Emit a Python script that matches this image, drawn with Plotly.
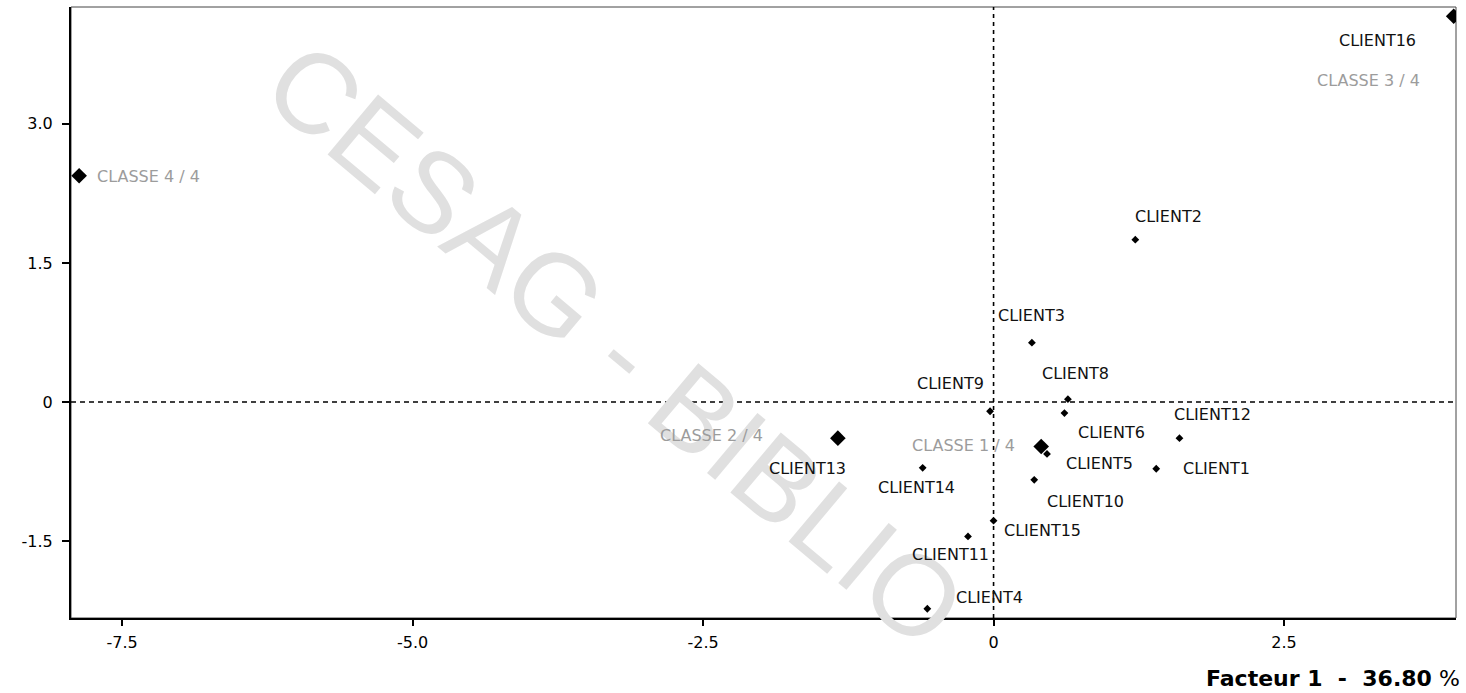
import plotly.graph_objects as go

# Individuals projected on factor 1 (x) and factor 2 (y)
client_names = ["CLIENT1", "CLIENT2", "CLIENT3", "CLIENT4", "CLIENT5", "CLIENT6",
                "CLIENT8", "CLIENT9", "CLIENT10", "CLIENT11", "CLIENT12", "CLIENT13",
                "CLIENT14", "CLIENT15", "CLIENT16"]
client_x = [1.40, 1.22, 0.33, -0.57, 0.46, 0.61, 0.64, -0.03, 0.35, -0.22, 1.60, -1.33,
            -0.61, 0.00, 3.96]
client_y = [-0.72, 1.75, 0.64, -2.23, -0.56, -0.12, 0.03, -0.10, -0.84, -1.45, -0.39, -0.40,
            -0.71, -1.28, 4.16]

# Class centroids
class_names = ["CLASSE 1 / 4", "CLASSE 2 / 4", "CLASSE 3 / 4", "CLASSE 4 / 4"]
class_x = [0.41, -1.34, 3.96, -7.87]
class_y = [-0.48, -0.39, 4.16, 2.44]

# Axis ticks
x_ticks = [-7.5, -5.0, -2.5, 0.0, 2.5]
x_tick_text = ["-7.5", "-5.0", "-2.5", "0", "2.5"]
y_ticks = [-1.5, 0.0, 1.5, 3.0]
y_tick_text = ["-1.5", "0", "1.5", "3.0"]

# Label offsets in pixels (dx, dy), one per point (client labels centred)
client_label_shift = [(60, 0), (33, 23), (0, 27), (62, 11), (52, -10), (47, -19),
                      (8, 26), (-40, 28), (51, -22), (-18, -18), (33, 24), (-32, -29),
                      (-6, -20), (49, -10), (-76, -24)]
# class labels: (dx, dy, anchor)
class_label_shift = [(-24, 1, "right"), (-73, 3, "right"), (-32, -64, "right"), (16, -1, "left")]

LABEL_FONT = dict(family="DejaVu Sans, sans-serif", size=16, color="#111111")
CLASS_FONT = dict(family="DejaVu Sans, sans-serif", size=16, color="#9c9c9c")

fig = go.Figure()

fig.add_trace(go.Scatter(
    x=client_x, y=client_y, mode="markers",
    marker=dict(symbol="diamond", size=6, color="black"),
    hovertext=client_names, hoverinfo="text+x+y", showlegend=False,
))
fig.add_trace(go.Scatter(
    x=class_x, y=class_y, mode="markers",
    marker=dict(symbol="diamond", size=12, color="black"),
    hovertext=class_names, hoverinfo="text+x+y", showlegend=False,
))

annotations = [
    # Library watermark
    dict(text="CESAG - BIBLIO", xref="paper", yref="paper", x=0.393, y=0.447,
         showarrow=False, textangle=40,
         font=dict(family="Liberation Sans, Arial, sans-serif", size=114, color="#e0e0e0")),
]
for name, x, y, (dx, dy) in zip(client_names, client_x, client_y, client_label_shift):
    annotations.append(dict(text=name, x=x, y=y, xref="x", yref="y", showarrow=False,
                            xshift=dx, yshift=dy, font=LABEL_FONT))
for name, x, y, (dx, dy, anc) in zip(class_names, class_x, class_y, class_label_shift):
    annotations.append(dict(text=name, x=x, y=y, xref="x", yref="y", showarrow=False,
                            xanchor=anc, xshift=dx, yshift=dy, font=CLASS_FONT))

# Axis title of factor 1
annotations.append(dict(
    text="<b>Facteur 1  -  36.80</b> %", xref="paper", yref="paper", x=1.004, y=0,
    xanchor="right", yanchor="middle", yshift=-60, showarrow=False,
    font=dict(family="DejaVu Sans, sans-serif", size=22, color="black"),
))

shapes = [
    # Frame
    dict(type="rect", xref="paper", yref="paper", x0=0, x1=1, y0=0, y1=1,
         line=dict(color="#444444", width=1), layer="below"),
    # Origin lines
    dict(type="line", xref="x", yref="paper", x0=0, x1=0, y0=0, y1=1,
         line=dict(color="black", width=1.6, dash="4px,4px")),
    dict(type="line", xref="paper", yref="y", x0=0, x1=1, y0=0, y1=0,
         line=dict(color="black", width=1.4, dash="5px,4px")),
]

fig.update_layout(
    width=1466, height=693,
    margin=dict(l=71, r=10, t=7, b=75),
    paper_bgcolor="white", plot_bgcolor="white",
    annotations=annotations, shapes=shapes,
    font=dict(family="DejaVu Sans, sans-serif", size=16, color="black"),
)
fig.update_xaxes(
    range=[-7.94, 3.98], tickvals=x_ticks, ticktext=x_tick_text,
    showgrid=False, zeroline=False, showline=True, linecolor="black", linewidth=2,
    ticks="outside", ticklen=6, tickwidth=1.5, tickcolor="black",
    ticklabelstandoff=3, tickfont=dict(size=16),
)
fig.update_yaxes(
    range=[-2.33, 4.26], tickvals=y_ticks, ticktext=y_tick_text,
    showgrid=False, zeroline=False, showline=True, linecolor="black", linewidth=2,
    ticks="outside", ticklen=7, tickwidth=1.5, tickcolor="black",
    ticklabelstandoff=6, tickfont=dict(size=16),
)

fig.write_html("out.html")
